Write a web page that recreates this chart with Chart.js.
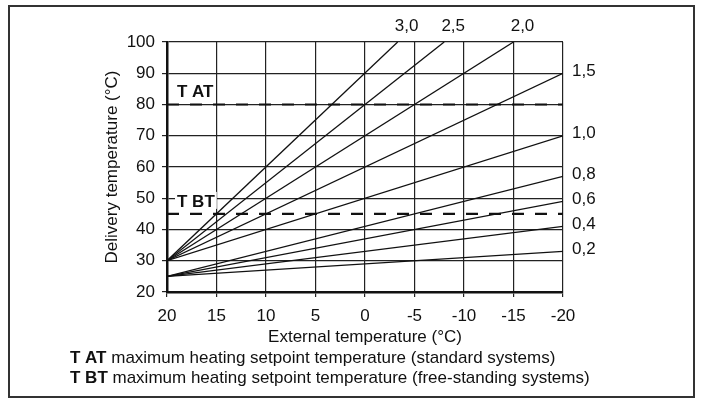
<!DOCTYPE html>
<html>
<head>
<meta charset="utf-8">
<script src="https://cdn.jsdelivr.net/npm/chart.js@4/dist/chart.umd.min.js"></script>
<style>
  html, body { margin: 0; padding: 0; background: #fff; }
  canvas { display: block; }
</style>
</head>
<body>
<canvas id="heatingCurves" width="702" height="398"></canvas>
<script>
// heating curves: delivery temperature vs external temperature
const curveNames = ['3,0', '2,5', '2,0', '1,5', '1,0', '0,8', '0,6', '0,4', '0,2'];
const curveStartExt = [20, 20, 20, 20, 20, 20, 20, 20, 20];
const curveStartTemp = [30, 30, 30, 30, 30, 25, 25, 25, 25];
const curveEndExt = [-3.3, -8, -15, -20, -20, -20, -20, -20, -20];
const curveEndTemp = [100, 100, 100, 90, 70, 57, 49, 41, 33];

const limitNames = ['T AT', 'T BT'];
const limitTemps = [80, 45];

const xTicks = [20, 15, 10, 5, 0, -5, -10, -15, -20];
const yTicks = [20, 30, 40, 50, 60, 70, 80, 90, 100];

const footNames = ['T AT', 'T BT'];
const footTexts = [
  ' maximum heating setpoint temperature (standard systems)',
  ' maximum heating setpoint temperature (free-standing systems)'
];

const FONT = "'Liberation Sans Narrow', 'Arial Narrow', 'Liberation Sans', Arial, sans-serif";

var datasets = [];
curveNames.forEach(function (name, i) {
  datasets.push({
    label: name,
    data: [
      { x: curveStartExt[i], y: curveStartTemp[i] },
      { x: curveEndExt[i], y: curveEndTemp[i] }
    ],
    borderColor: '#111',
    borderWidth: 1.3,
    pointRadius: 0,
    fill: false
  });
});
limitNames.forEach(function (name, i) {
  datasets.push({
    label: name,
    data: [
      { x: xTicks[0], y: limitTemps[i] },
      { x: xTicks[xTicks.length - 1], y: limitTemps[i] }
    ],
    borderColor: '#111',
    borderWidth: 2.2,
    borderDash: [12, 11],
    pointRadius: 0,
    fill: false
  });
});

// frame, curve labels, limit labels, footnotes
const annotations = {
  id: 'annotations',
  afterDraw(chart) {
    const ctx = chart.ctx;
    const xs = chart.scales.x, ys = chart.scales.y;
    ctx.save();

    // outer frame
    ctx.strokeStyle = '#333';
    ctx.lineWidth = 2;
    ctx.strokeRect(9, 6, 685, 391);

    // curve labels
    ctx.fillStyle = '#111';
    ctx.font = '17px ' + FONT;
    curveNames.forEach(function (name, i) {
      const px = xs.getPixelForValue(curveEndExt[i]);
      const py = ys.getPixelForValue(curveEndTemp[i]);
      ctx.textBaseline = 'middle';
      if (curveEndTemp[i] >= yTicks[yTicks.length - 1]) {
        ctx.textAlign = 'center';
        ctx.fillText(name, px + 9, py - 16);
      } else {
        ctx.textAlign = 'left';
        ctx.fillText(name, px + 9, py - 2);
      }
    });

    // T AT / T BT labels above the dashed lines
    ctx.font = 'bold 17px ' + FONT;
    limitNames.forEach(function (name, i) {
      const py = ys.getPixelForValue(limitTemps[i]);
      const left = chart.chartArea.left + 10;
      const w = ctx.measureText(name).width;
      ctx.fillStyle = '#fff';
      ctx.fillRect(left - 2, py - 22, w + 4, 17);
      ctx.fillStyle = '#111';
      ctx.textAlign = 'left';
      ctx.textBaseline = 'middle';
      ctx.fillText(name, left, py - 12);
    });

    // footnotes
    footNames.forEach(function (name, i) {
      const y = 358 + i * 20;
      ctx.textAlign = 'left';
      ctx.textBaseline = 'middle';
      ctx.font = 'bold 17px ' + FONT;
      ctx.fillText(name, 70, y);
      const w = ctx.measureText(name).width;
      ctx.font = '17px ' + FONT;
      ctx.fillText(footTexts[i], 70 + w, y);
    });

    ctx.restore();
  }
};

var ctx = document.getElementById('heatingCurves').getContext('2d');
var myChart = new Chart(ctx, {
  type: 'line',
  data: { datasets: datasets },
  plugins: [annotations],
  options: {
    responsive: false,
    animation: false,
    layout: { padding: { left: 9, top: 42, right: 139, bottom: 0 } },
    plugins: {
      legend: { display: false },
      tooltip: { enabled: false }
    },
    scales: {
      x: {
        type: 'linear',
        reverse: true,
        min: xTicks[xTicks.length - 1],
        max: xTicks[0],
        afterBuildTicks: function (s) { s.ticks = xTicks.map(v => ({ value: v })); },
        afterFit: function (s) { s.height = 106; },
        ticks: {
          color: '#111',
          font: { family: FONT, size: 17 },
          padding: 9,
          maxRotation: 0
        },
        grid: { color: '#222', lineWidth: 1.2, tickLength: 5 },
        border: { display: true, color: '#111', width: 2.5 },
        title: {
          display: true,
          text: 'External temperature (°C)',
          color: '#111',
          font: { family: FONT, size: 17 },
          padding: { top: 0, bottom: 50 }
        }
      },
      y: {
        type: 'linear',
        min: yTicks[0],
        max: yTicks[yTicks.length - 1],
        afterBuildTicks: function (s) { s.ticks = yTicks.map(v => ({ value: v })); },
        afterFit: function (s) { s.width = 158; },
        ticks: {
          color: '#111',
          font: { family: FONT, size: 17 },
          padding: 7
        },
        grid: { color: '#222', lineWidth: 1.2, tickLength: 5 },
        border: { display: true, color: '#111', width: 2.5 },
        title: {
          display: true,
          text: 'Delivery temperature (°C)',
          color: '#111',
          font: { family: FONT, size: 17 },
          padding: { top: 93, bottom: 0 }
        }
      }
    }
  }
});
</script>
</body>
</html>
